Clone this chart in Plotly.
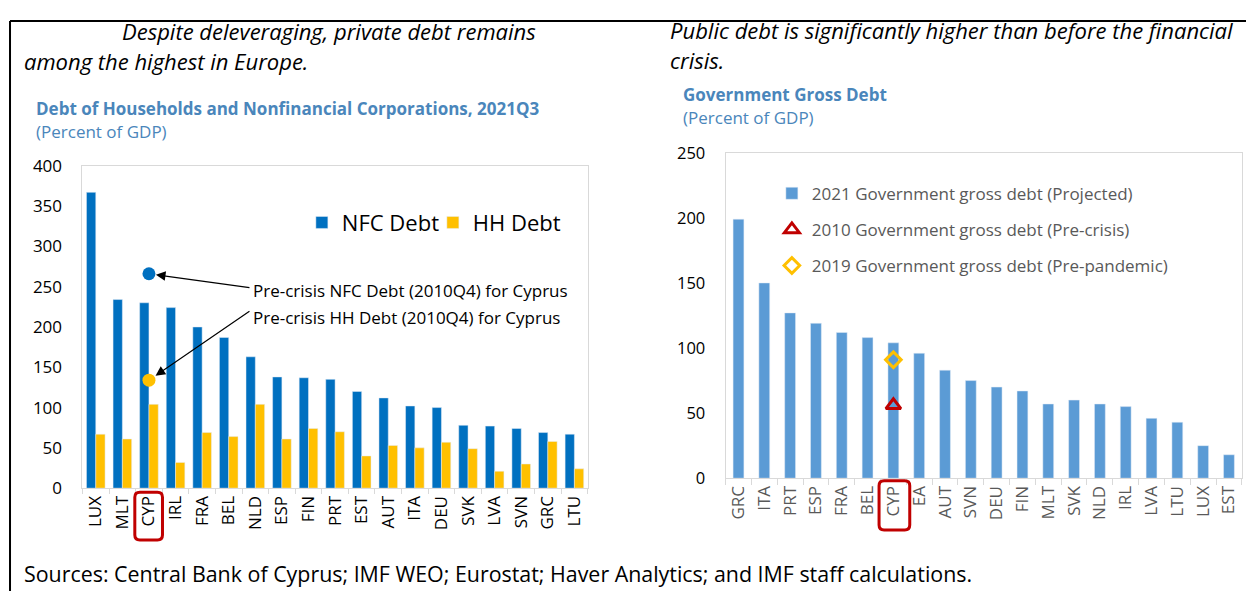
import plotly.graph_objects as go

W, H = 1254, 591
# rendered figure box observed inside the photographed window
FX0, FW = 8.0, 1246.0
FY0, FH = 19.0, 569.0

# ---------------- data ----------------
left_countries = ["LUX", "MLT", "CYP", "IRL", "FRA", "BEL", "NLD", "ESP", "FIN", "PRT",
                  "EST", "AUT", "ITA", "DEU", "SVK", "LVA", "SVN", "GRC", "LTU"]
nfc_debt = [367, 234, 230, 224, 200, 187, 163, 138, 137, 135,
            120, 112, 102, 100, 78, 77, 74, 69, 67]
hh_debt = [67, 61, 104, 32, 69, 64, 104, 61, 74, 70,
           40, 53, 50, 57, 49, 21, 30, 58, 24]
precrisis_cyp_nfc = 266
precrisis_cyp_hh = 134

right_countries = ["GRC", "ITA", "PRT", "ESP", "FRA", "BEL", "CYP", "EA", "AUT", "SVN",
                   "DEU", "FIN", "MLT", "SVK", "NLD", "IRL", "LVA", "LTU", "LUX", "EST"]
gov_debt_2021 = [199, 150, 127, 119, 112, 108, 104, 96, 83, 75,
                 70, 67, 57, 60, 57, 55, 46, 43, 25, 18]
gov_debt_2010_cyp = 56
gov_debt_2019_cyp = 91

# ---------------- style ----------------
FONT = "Open Sans"
BLUE = "#0070C0"
GOLD = "#FFC000"
LBLUE = "#5B9BD5"
DRED = "#C00000"
TITLE_BLUE = "#4A86BB"
GRID = "#D9D9D9"


def px(x):
    return (x - FX0) / FW


def py(y):
    return 1 - (y - FY0) / FH


fig = go.Figure()

# left chart
fig.add_trace(go.Bar(x=left_countries, y=nfc_debt, name="NFC Debt", marker_color=BLUE,
                     width=0.35, offset=-0.35, xaxis="x", yaxis="y", legend="legend"))
fig.add_trace(go.Bar(x=left_countries, y=hh_debt, name="HH Debt", marker_color=GOLD,
                     width=0.35, offset=0.0, xaxis="x", yaxis="y", legend="legend"))
fig.add_trace(go.Scatter(x=["CYP"], y=[precrisis_cyp_nfc], mode="markers", showlegend=False,
                         marker=dict(color=BLUE, size=13), xaxis="x", yaxis="y"))
fig.add_trace(go.Scatter(x=["CYP"], y=[precrisis_cyp_hh], mode="markers", showlegend=False,
                         marker=dict(color=GOLD, size=13), xaxis="x", yaxis="y"))

# right chart
fig.add_trace(go.Bar(x=right_countries, y=gov_debt_2021, name="2021 Government gross debt (Projected)",
                     marker_color=LBLUE, width=0.42, xaxis="x2", yaxis="y2",
                     legend="legend2", legendgroup="a"))
fig.add_trace(go.Scatter(x=["CYP"], y=[gov_debt_2010_cyp], mode="markers",
                         name="2010 Government gross debt (Pre-crisis)",
                         marker=dict(symbol="triangle-up-open", color=DRED, size=13,
                                     line=dict(width=3, color=DRED)),
                         xaxis="x2", yaxis="y2", legend="legend2", legendgroup="b"))
fig.add_trace(go.Scatter(x=["CYP"], y=[gov_debt_2019_cyp], mode="markers",
                         name="2019 Government gross debt (Pre-pandemic)",
                         marker=dict(symbol="diamond-open", color=GOLD, size=12,
                                     line=dict(width=3, color=GOLD)),
                         xaxis="x2", yaxis="y2", legend="legend2", legendgroup="c"))

axis_common = dict(showline=True, mirror=True, linecolor=GRID, linewidth=1,
                   showgrid=False, zeroline=False)

fig.update_layout(
    width=W, height=H, autosize=False,
    margin=dict(l=0, r=0, t=0, b=0),
    paper_bgcolor="white", plot_bgcolor="white",
    font=dict(family=FONT, color="#000000"),
    barmode="group",
    xaxis=dict(domain=[px(82), px(584)], anchor="y", type="category",
               tickangle=-90, ticks="outside", tickson="boundaries", ticklen=5,
               tickcolor=GRID, tickfont=dict(size=17, color="#000000"), **axis_common),
    yaxis=dict(domain=[py(488), py(165)], anchor="x", range=[0, 400], dtick=50,
               ticks="", ticklabelstandoff=16, tickfont=dict(size=17, color="#000000"),
               **axis_common),
    xaxis2=dict(domain=[px(721), px(1234)], anchor="y2", type="category",
                tickangle=-90, ticks="outside", tickson="boundaries", ticklen=6,
                tickcolor=GRID, tickfont=dict(size=17, color="#595959"), **axis_common),
    yaxis2=dict(domain=[py(478), py(152)], anchor="x2", range=[0, 250], dtick=50,
                ticks="", ticklabelstandoff=16, tickfont=dict(size=16.5, color="#000000"),
                **axis_common),
    legend=dict(orientation="h", x=px(300), y=py(222), xanchor="left", yanchor="middle",
                font=dict(size=22, color="#000000"), bgcolor="rgba(0,0,0,0)",
                itemwidth=30, entrywidth=86, traceorder="normal"),
    legend2=dict(orientation="v", x=px(767), y=py(175), xanchor="left", yanchor="top",
                 font=dict(size=17, color="#595959"), bgcolor="rgba(0,0,0,0)",
                 itemwidth=30, tracegroupgap=11, traceorder="grouped"),
)

annotations = []


def text(x, y, s, size, color="#000000", italic=False, bold=False):
    if bold:
        s = "<b>" + s + "</b>"
    if italic:
        s = "<i>" + s + "</i>"
    annotations.append(dict(x=px(x), y=py(y), xref="paper", yref="paper", text=s,
                            showarrow=False, xanchor="left", yanchor="middle",
                            font=dict(size=size, color=color, family=FONT)))


text(119, 30, "Despite deleveraging, private debt remains", 22, italic=True)
text(22, 60, "among the highest in Europe.", 22, italic=True)
text(664, 29, "Public debt is significantly higher than before the financial", 22, italic=True)
text(664, 59, "crisis.", 22, italic=True)
text(34, 108, "Debt of Households and Nonfinancial Corporations, 2021Q3", 17, TITLE_BLUE, bold=True)
text(34, 131, "(Percent of GDP)", 17, TITLE_BLUE)
text(677, 94, "Government Gross Debt", 17, TITLE_BLUE, bold=True)
text(677, 117, "(Percent of GDP)", 17, TITLE_BLUE)
text(249, 290, "Pre-crisis NFC Debt (2010Q4) for Cyprus", 17)
text(249, 317, "Pre-crisis HH Debt (2010Q4) for Cyprus", 17)
text(22, 573, "Sources: Central Bank of Cyprus; IMF WEO; Eurostat; Haver Analytics; and IMF staff calculations.", 21.4)

# arrows pointing to the pre-crisis markers
annotations.append(dict(x="CYP", y=precrisis_cyp_nfc, xref="x", yref="y", text="",
                        showarrow=True, arrowhead=2, arrowsize=1.6, arrowwidth=1.2,
                        arrowcolor="#000000", ax=102, ay=14, standoff=7))
annotations.append(dict(x="CYP", y=precrisis_cyp_hh, xref="x", yref="y", text="",
                        showarrow=True, arrowhead=2, arrowsize=1.6, arrowwidth=1.2,
                        arrowcolor="#000000", ax=102, ay=-70, standoff=8))

fig.update_layout(annotations=annotations)


def rounded_rect(x0, y0, x1, y1, r):
    X = lambda v: px(v)
    Y = lambda v: py(v)
    return (f"M {X(x0 + r)},{Y(y0)} L {X(x1 - r)},{Y(y0)} Q {X(x1)},{Y(y0)} {X(x1)},{Y(y0 + r)} "
            f"L {X(x1)},{Y(y1 - r)} Q {X(x1)},{Y(y1)} {X(x1 - r)},{Y(y1)} "
            f"L {X(x0 + r)},{Y(y1)} Q {X(x0)},{Y(y1)} {X(x0)},{Y(y1 - r)} "
            f"L {X(x0)},{Y(y0 + r)} Q {X(x0)},{Y(y0)} {X(x0 + r)},{Y(y0)} Z")


shapes = [
    dict(type="line", xref="paper", yref="paper", x0=px(10), x1=1.01, y0=py(20), y1=py(20),
         line=dict(color="#000000", width=2)),
    dict(type="line", xref="paper", yref="paper", x0=px(10), x1=px(10), y0=py(20), y1=-0.01,
         line=dict(color="#000000", width=2)),
    dict(type="path", xref="paper", yref="paper", path=rounded_rect(134, 492, 161.5, 540, 5),
         line=dict(color=DRED, width=3)),
    dict(type="path", xref="paper", yref="paper", path=rounded_rect(873.5, 480.5, 904, 530, 5),
         line=dict(color=DRED, width=3)),
]
fig.update_layout(shapes=shapes)

fig.write_html("out.html")
